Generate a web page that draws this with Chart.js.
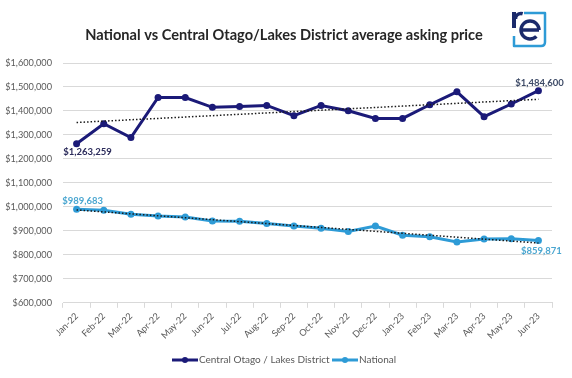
<!DOCTYPE html>
<html>
<head>
<meta charset="utf-8">
<script src="https://cdn.jsdelivr.net/npm/chart.js@4.4.0/dist/chart.umd.min.js"></script>
<style>
  html, body { margin: 0; padding: 0; background: #fff; }
  #wrap { width: 572px; height: 378px; position: relative; }
</style>
</head>
<body>
<div id="wrap"><canvas id="grafico"></canvas></div>
<script>
// months on the x axis
var meses = ["Jan-22", "Feb-22", "Mar-22", "Apr-22", "May-22", "Jun-22", "Jul-22", "Aug-22", "Sep-22",
             "Oct-22", "Nov-22", "Dec-22", "Jan-23", "Feb-23", "Mar-23", "Apr-23", "May-23", "Jun-23"];

// average asking price, Central Otago / Lakes District
var centralOtago = [1263259, 1347000, 1289000, 1456000, 1456000, 1415000, 1419000, 1423000, 1380000,
                    1423000, 1401000, 1369000, 1369000, 1426000, 1480000, 1376000, 1429000, 1484600];

// average asking price, National
var nacional = [989683, 986000, 969000, 962000, 958000, 941000, 940000, 931000, 920000,
                911000, 897000, 920000, 882000, 875000, 854000, 866000, 867000, 859871];

var yMin = 600000, yMax = 1600000, yStep = 100000;

var titulo = "National vs Central Otago/Lakes District average asking price";
var nombres = ["Central Otago / Lakes District", "National"];

var azulOscuro = "#1b1a78";
var azulClaro = "#2e9bd6";

// least squares trend line, like the Excel one
function tendencia(valores) {
    var n = valores.length, sx = 0, sy = 0, sxy = 0, sxx = 0;
    for (var i = 0; i < n; i++) { sx += i; sy += valores[i]; sxy += i * valores[i]; sxx += i * i; }
    var m = (n * sxy - sx * sy) / (n * sxx - sx * sx);
    var b = (sy - m * sx) / n;
    return valores.map(function (v, i) { return b + m * i; });
}

function dinero(v) {
    return "$" + Math.round(v).toLocaleString("en-US");
}

var fuente = "Lato, 'Open Sans', sans-serif";

var extras = {
    id: "extras",
    afterDraw: function (chart) {
        var ctx = chart.ctx;
        var x = chart.scales.x, y = chart.scales.y;
        ctx.save();

        // title
        ctx.fillStyle = "#262626";
        ctx.font = "bold 14.6px " + fuente;
        ctx.textAlign = "center";
        ctx.textBaseline = "middle";
        ctx.fillText(titulo, 284, 35);

        // data labels at first / last points
        var ultimo = meses.length - 1;
        ctx.font = "bold 9.5px " + fuente;
        ctx.textAlign = "center";
        ctx.fillStyle = "#2a2a5a";
        ctx.fillText(dinero(centralOtago[0]), x.getPixelForValue(0) + 11, y.getPixelForValue(centralOtago[0]) + 8);
        ctx.fillStyle = "#3d4a66";
        ctx.fillText(dinero(centralOtago[ultimo]), x.getPixelForValue(ultimo) + 1, y.getPixelForValue(centralOtago[ultimo]) - 8);
        ctx.fillStyle = "#4aa6d0";
        ctx.fillText(dinero(nacional[0]), x.getPixelForValue(0) + 6, y.getPixelForValue(nacional[0]) - 8);
        ctx.fillText(dinero(nacional[ultimo]), x.getPixelForValue(ultimo) + 3, y.getPixelForValue(nacional[ultimo]) + 10);

        // legend
        ctx.font = "10px " + fuente;
        ctx.textAlign = "left";
        var items = [[172, azulOscuro, nombres[0]], [332, azulClaro, nombres[1]]];
        items.forEach(function (it) {
            ctx.strokeStyle = it[1];
            ctx.lineWidth = 3;
            ctx.beginPath();
            ctx.moveTo(it[0], 360);
            ctx.lineTo(it[0] + 26, 360);
            ctx.stroke();
            ctx.fillStyle = it[1];
            ctx.beginPath();
            ctx.arc(it[0] + 13, 360, 3, 0, Math.PI * 2);
            ctx.fill();
            ctx.fillStyle = "#595959";
            ctx.fillText(it[2], it[0] + 27, 360);
        });

        // logo
        ctx.strokeStyle = "#2e9bd6";
        ctx.lineWidth = 2.5;
        ctx.lineJoin = "round";
        ctx.beginPath();
        ctx.moveTo(524, 13);
        ctx.lineTo(545, 13);
        ctx.lineTo(545, 42);
        ctx.quadraticCurveTo(545, 46, 541, 46);
        ctx.lineTo(514, 46);
        ctx.lineTo(514, 36);
        ctx.stroke();
        ctx.fillStyle = "#1b2a6b";
        ctx.fillRect(512, 12, 4, 16);
        ctx.strokeStyle = "#1b2a6b";
        ctx.lineWidth = 3.5;
        ctx.beginPath();
        ctx.arc(521, 19, 5.5, Math.PI, Math.PI * 1.6);
        ctx.stroke();
        ctx.beginPath();
        ctx.arc(530, 30, 9, 0, Math.PI * 0.25, true);
        ctx.stroke();
        ctx.beginPath();
        ctx.moveTo(521, 30);
        ctx.lineTo(539, 30);
        ctx.stroke();

        ctx.restore();
    }
};

var datos = {
    labels: meses,
    datasets: [{
        label: nombres[0],
        data: centralOtago,
        borderColor: azulOscuro,
        backgroundColor: azulOscuro,
        borderWidth: 3,
        pointRadius: 3.5,
        pointBorderWidth: 0,
        pointHoverRadius: 3.5,
        order: 2
    }, {
        label: nombres[1],
        data: nacional,
        borderColor: azulClaro,
        backgroundColor: azulClaro,
        borderWidth: 3,
        pointRadius: 3.5,
        pointBorderWidth: 0,
        pointHoverRadius: 3.5,
        order: 2
    }, {
        label: "trend central",
        data: tendencia(centralOtago),
        borderColor: "#1a1a1a",
        borderWidth: 1.5,
        borderDash: [1.5, 2],
        pointRadius: 0,
        order: 1
    }, {
        label: "trend national",
        data: tendencia(nacional),
        borderColor: "#1a1a1a",
        borderWidth: 1.5,
        borderDash: [1.5, 2],
        pointRadius: 0,
        order: 1
    }]
};

var opciones = {
    responsive: false,
    animation: false,
    layout: { padding: { top: 63, right: 20, bottom: 34, left: 0 } },
    plugins: {
        legend: { display: false },
        title: { display: false },
        tooltip: { enabled: false }
    },
    scales: {
        x: {
            offset: true,
            grid: { offset: true, drawOnChartArea: false, color: "#d9d9d9", tickLength: 5 },
            border: { color: "#d9d9d9" },
            ticks: {
                color: "#595959",
                font: { family: fuente, size: 9.2 },
                minRotation: 45,
                maxRotation: 45,
                padding: 3
            }
        },
        y: {
            min: yMin,
            max: yMax,
            afterFit: function (s) { s.width = 63; },
            grid: { color: "#d9d9d9", drawTicks: false },
            border: { display: false },
            ticks: {
                stepSize: yStep,
                color: "#595959",
                font: { family: fuente, size: 9.2 },
                padding: 11,
                callback: function (v) { return dinero(v); }
            }
        }
    }
};

var canvas = document.getElementById("grafico");
canvas.width = 572;
canvas.height = 378;
var grafico = new Chart(canvas, {
    type: "line",
    data: datos,
    options: opciones,
    plugins: [extras]
});
</script>
</body>
</html>
